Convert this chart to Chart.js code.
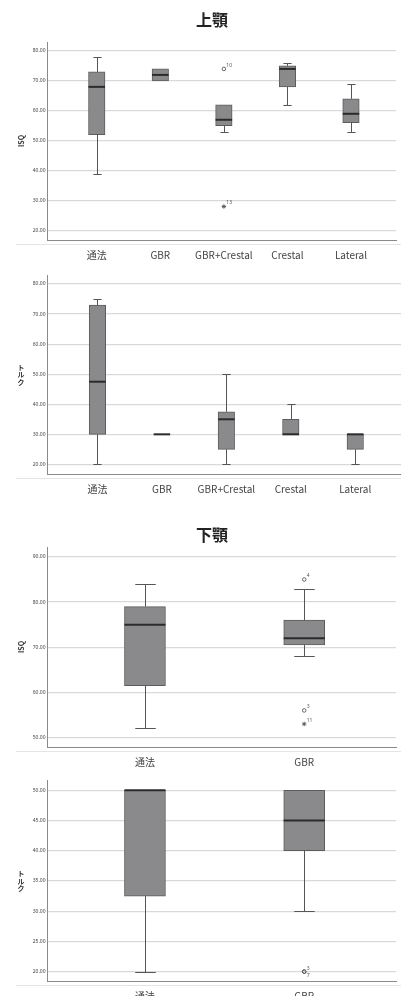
<!DOCTYPE html>
<html lang="ja">
<head>
<meta charset="utf-8">
<script src="https://cdn.jsdelivr.net/npm/chart.js@4.4.1/dist/chart.umd.min.js"></script>
<style>
  html, body { margin: 0; padding: 0; background: #fff; }
  body { width: 401px; height: 996px; overflow: hidden; }
  .panel { position: relative; width: 401px; }
  #p1 { height: 262px; }
  #p2 { height: 236px; }
  #p3 { height: 271px; }
  #p4 { height: 227px; }
</style>
</head>
<body>
<div class="panel" id="p1"><canvas id="upperIsq"></canvas></div>
<div class="panel" id="p2"><canvas id="upperTorque"></canvas></div>
<div class="panel" id="p3"><canvas id="lowerIsq"></canvas></div>
<div class="panel" id="p4"><canvas id="lowerTorque"></canvas></div>
<script>
const upperCats = ["通法", "GBR", "GBR+Crestal", "Crestal", "Lateral"];
const lowerCats = ["通法", "GBR"];

// 上顎 ISQ
const upIsqMin = [39, 70, 53, 62, 53];
const upIsqQ1 = [52, 70, 55, 68, 56];
const upIsqMed = [68, 72, 57, 74, 59];
const upIsqQ3 = [73, 74, 62, 75, 64];
const upIsqMax = [78, 74, 62, 76, 69];
const upIsqOutCat = [3, 3];
const upIsqOutVal = [74, 28];
const upIsqOutId = ["10", "13"];
const upIsqOutStar = [false, true];

// 上顎 トルク
const upTrqMin = [20, 30, 20, 30, 20];
const upTrqQ1 = [30, 30, 25, 30, 25];
const upTrqMed = [47.5, 30, 35, 30, 30];
const upTrqQ3 = [73, 30, 37.5, 35, 30];
const upTrqMax = [75, 30, 50, 40, 30];

// 下顎 ISQ
const loIsqMin = [52, 68];
const loIsqQ1 = [61.5, 70.5];
const loIsqMed = [75, 72];
const loIsqQ3 = [79, 76];
const loIsqMax = [84, 83];
const loIsqOutCat = [2, 2, 2];
const loIsqOutVal = [85, 56, 53];
const loIsqOutId = ["4", "3", "11"];
const loIsqOutStar = [false, false, true];

// 下顎 トルク
const loTrqMin = [20, 30];
const loTrqQ1 = [32.5, 40];
const loTrqMed = [50, 45];
const loTrqQ3 = [50, 50];
const loTrqMax = [50, 50];
const loTrqOutCat = [2, 2];
const loTrqOutVal = [20, 20];
const loTrqOutId = ["3", "7"];
const loTrqOutStar = [false, false];

const upIsqTicks = [20, 30, 40, 50, 60, 70, 80];
const upTrqTicks = [20, 30, 40, 50, 60, 70, 80];
const loIsqTicks = [50, 60, 70, 80, 90];
const loTrqTicks = [20, 25, 30, 35, 40, 45, 50];

Chart.defaults.font.family = "'Noto Sans CJK JP', 'Noto Sans', sans-serif";

// whiskers + median drawn on top of the floating bars
function whiskers(s) {
  return {
    id: "whiskers",
    afterDatasetsDraw(chart) {
      const { ctx, scales: { y } } = chart;
      const bars = chart.getDatasetMeta(0).data;
      ctx.save();
      bars.forEach((bar, i) => {
        const cx = Math.round(bar.x) + 0.5;
        const half = bar.width / 2;
        const cap = half / 2;
        ctx.strokeStyle = "#555";
        ctx.lineWidth = 1;
        ctx.beginPath();
        if (s.max[i] > s.q3[i]) {
          const yt = Math.round(y.getPixelForValue(s.max[i])) + 0.5;
          ctx.moveTo(cx, y.getPixelForValue(s.q3[i]));
          ctx.lineTo(cx, yt);
          ctx.moveTo(cx - cap, yt);
          ctx.lineTo(cx + cap, yt);
        }
        if (s.min[i] < s.q1[i]) {
          const yb = Math.round(y.getPixelForValue(s.min[i])) + 0.5;
          ctx.moveTo(cx, y.getPixelForValue(s.q1[i]));
          ctx.lineTo(cx, yb);
          ctx.moveTo(cx - cap, yb);
          ctx.lineTo(cx + cap, yb);
        }
        ctx.stroke();
        const ym = y.getPixelForValue(s.med[i]);
        ctx.strokeStyle = "#2b2b2b";
        ctx.lineWidth = 2;
        ctx.beginPath();
        ctx.moveTo(bar.x - half, ym);
        ctx.lineTo(bar.x + half, ym);
        ctx.stroke();
      });
      ctx.restore();
    },
  };
}

// case numbers next to outliers
function outlierIds(s) {
  return {
    id: "outlierIds",
    afterDatasetsDraw(chart) {
      if (!s.outVal) return;
      const { ctx } = chart;
      const pts = chart.getDatasetMeta(1).data;
      ctx.save();
      ctx.font = "5px 'Noto Sans', sans-serif";
      ctx.fillStyle = "#555";
      ctx.textAlign = "left";
      pts.forEach((pt, i) => {
        const dup = i > 0 && s.outVal[i] === s.outVal[i - 1] && s.outCat[i] === s.outCat[i - 1];
        ctx.textBaseline = dup ? "top" : "bottom";
        ctx.fillText(s.outId[i], pt.x + 2.5, dup ? pt.y + 1.5 : pt.y - 1);
      });
      ctx.restore();
    },
  };
}

// y axis title: rotated for ISQ, stacked for トルク
function sideTitle(text, stacked) {
  return {
    id: "sideTitle",
    afterDraw(chart) {
      const { ctx, chartArea } = chart;
      const cy = (chartArea.top + chartArea.bottom) / 2;
      ctx.save();
      ctx.font = "bold 7px 'Noto Sans CJK JP', sans-serif";
      ctx.fillStyle = "#333";
      ctx.textAlign = "center";
      ctx.textBaseline = "middle";
      if (stacked) {
        const chars = Array.from(text);
        chars.forEach((c, k) => {
          ctx.fillText(c, 21, cy + (k - (chars.length - 1) / 2) * 7.5);
        });
      } else {
        ctx.translate(21, cy);
        ctx.rotate(-Math.PI / 2);
        ctx.fillText(text, 0, 0);
      }
      ctx.restore();
    },
  };
}

const underline = {
  id: "underline",
  afterDraw(chart) {
    const { ctx, chartArea, width } = chart;
    const yy = Math.round(chartArea.bottom + 4) + 0.5;
    ctx.save();
    ctx.strokeStyle = "#e4e4e4";
    ctx.lineWidth = 1;
    ctx.beginPath();
    ctx.moveTo(16, yy);
    ctx.lineTo(width, yy);
    ctx.stroke();
    ctx.restore();
  },
};

function boxChart(id, s) {
  const datasets = [
    {
      type: "bar",
      data: s.q1.map((v, i) => ({ x: i + 1, y: [v, s.q3[i]] })),
      backgroundColor: "#8a8a8d",
      borderColor: "#5c5c5c",
      borderWidth: 1,
      borderSkipped: false,
      barThickness: s.boxW,
    },
  ];
  if (s.outVal) {
    datasets.push({
      type: "scatter",
      data: s.outVal.map((v, i) => ({ x: s.outCat[i], y: v })),
      pointStyle: s.outStar.map((st) => (st ? "star" : "circle")),
      pointRadius: s.outStar.map((st) => (st ? 2.2 : 1.8)),
      backgroundColor: "rgba(0,0,0,0)",
      borderColor: "#555",
      borderWidth: 0.9,
    });
  }
  return new Chart(document.getElementById(id), {
    type: "bar",
    data: { datasets },
    options: {
      responsive: true,
      maintainAspectRatio: false,
      animation: false,
      layout: { padding: { left: 23, right: 0, top: s.padTop, bottom: 0 } },
      plugins: {
        legend: { display: false },
        tooltip: { enabled: false },
        title: {
          display: !!s.title,
          text: s.title,
          color: "#222",
          font: { size: 16, weight: "bold" },
          padding: s.titlePad,
        },
      },
      scales: {
        x: {
          type: "linear",
          min: s.xMin,
          max: s.xMax,
          offset: false,
          afterFit: (a) => { a.height = s.xAxisH; },
          afterBuildTicks: (a) => { a.ticks = s.cats.map((c, i) => ({ value: i + 1 })); },
          grid: { display: false, offset: false },
          border: { color: "#8a8a8a" },
          ticks: {
            autoSkip: false,
            maxRotation: 0,
            minRotation: 0,
            padding: 1,
            color: "#444",
            font: { size: 10 },
            callback: (v) => s.cats[v - 1],
          },
        },
        y: {
          min: s.yMin,
          max: s.yMax,
          afterFit: (a) => { a.width = 24.5; },
          afterBuildTicks: (a) => { a.ticks = s.yTicks.map((v) => ({ value: v })); },
          grid: { color: "#d9d9d9", lineWidth: 1.2, drawTicks: false },
          border: { color: "#8a8a8a" },
          ticks: {
            padding: 2,
            color: "#444",
            font: { size: 5, family: "'Noto Sans', sans-serif" },
            callback: (v) => Number(v).toFixed(2),
          },
        },
      },
    },
    plugins: [whiskers(s), outlierIds(s), sideTitle(s.yTitle, s.stacked), underline],
  });
}

boxChart("upperIsq", {
  cats: upperCats, min: upIsqMin, q1: upIsqQ1, med: upIsqMed, q3: upIsqQ3, max: upIsqMax,
  outCat: upIsqOutCat, outVal: upIsqOutVal, outId: upIsqOutId, outStar: upIsqOutStar,
  yTicks: upIsqTicks, yMin: 16.8, yMax: 83, xMin: 0.225, xMax: 5.71, boxW: 16.5,
  title: "上顎", titlePad: { top: 10, bottom: 12.8 }, padTop: 0, xAxisH: 22,
  yTitle: "ISQ", stacked: false,
});

boxChart("upperTorque", {
  cats: upperCats, min: upTrqMin, q1: upTrqQ1, med: upTrqMed, q3: upTrqQ3, max: upTrqMax,
  yTicks: upTrqTicks, yMin: 16.8, yMax: 83, xMin: 0.225, xMax: 5.71, boxW: 16.5,
  title: "", titlePad: 0, padTop: 13, xAxisH: 24,
  yTitle: "トルク", stacked: true,
});

boxChart("lowerIsq", {
  cats: lowerCats, min: loIsqMin, q1: loIsqQ1, med: loIsqMed, q3: loIsqQ3, max: loIsqMax,
  outCat: loIsqOutCat, outVal: loIsqOutVal, outId: loIsqOutId, outStar: loIsqOutStar,
  yTicks: loIsqTicks, yMin: 47.9, yMax: 92.2, xMin: 0.388, xMax: 2.577, boxW: 41,
  title: "下顎", titlePad: { top: 27.4, bottom: 2.4 }, padTop: 0, xAxisH: 22,
  yTitle: "ISQ", stacked: false,
});

boxChart("lowerTorque", {
  cats: lowerCats, min: loTrqMin, q1: loTrqQ1, med: loTrqMed, q3: loTrqQ3, max: loTrqMax,
  outCat: loTrqOutCat, outVal: loTrqOutVal, outId: loTrqOutId, outStar: loTrqOutStar,
  yTicks: loTrqTicks, yMin: 18.45, yMax: 51.6, xMin: 0.388, xMax: 2.577, boxW: 41,
  title: "", titlePad: 0, padTop: 11.7, xAxisH: 15,
  yTitle: "トルク", stacked: true,
});
</script>
</body>
</html>
